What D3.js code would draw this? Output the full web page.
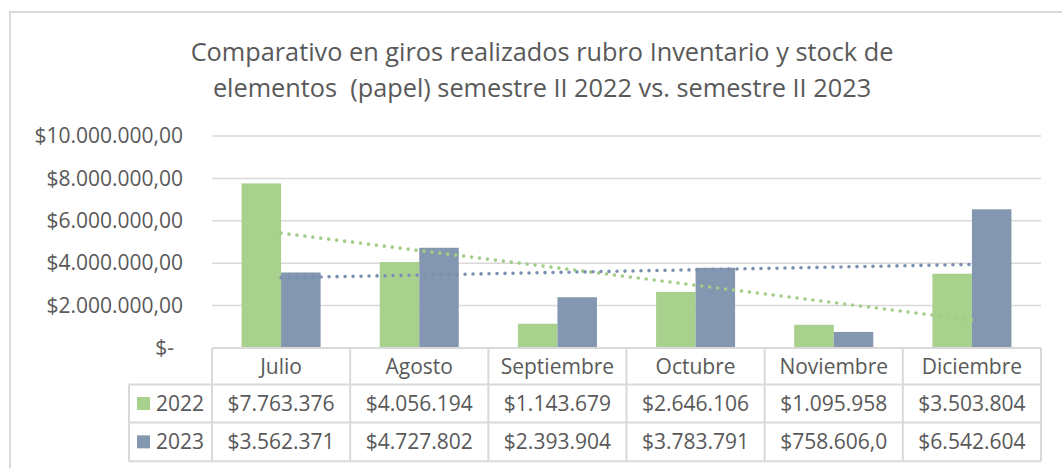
<!DOCTYPE html>
<html>
<head>
<meta charset="utf-8">
<script src="https://cdn.jsdelivr.net/npm/d3@7"></script>
<style>
  html, body { margin: 0; padding: 0; background: #fff; }
  svg { display: block; }
  text { font-family: "Open Sans", "Noto Sans", sans-serif; fill: #595959; }
</style>
</head>
<body>
<svg id="chart" width="1062" height="468"></svg>
<script>
const titleLines = [
  "Comparativo en giros realizados rubro Inventario y stock de",
  "elementos  (papel) semestre II 2022 vs. semestre II 2023"
];
const categories = ["Julio", "Agosto", "Septiembre", "Octubre", "Noviembre", "Diciembre"];
const seriesNames = ["2022", "2023"];
const values2022 = [7763376, 4056194, 1143679, 2646106, 1095958, 3503804];
const values2023 = [3562371, 4727802, 2393904, 3783791, 758606, 6542604];
const tableLabels2022 = ["$7.763.376", "$4.056.194", "$1.143.679", "$2.646.106", "$1.095.958", "$3.503.804"];
const tableLabels2023 = ["$3.562.371", "$4.727.802", "$2.393.904", "$3.783.791", "$758.606,0", "$6.542.604"];
const yTicks = [0, 2000000, 4000000, 6000000, 8000000, 10000000];
const yTickLabels = ["$-", "$2.000.000,00", "$4.000.000,00", "$6.000.000,00", "$8.000.000,00", "$10.000.000,00"];
const colors = { "2022": "#a9d18e", "2023": "#8497b0" };
const trendColors = { "2022": "#a2cd86", "2023": "#7b8fb0" };

const series = [
  { name: seriesNames[0], values: values2022, labels: tableLabels2022 },
  { name: seriesNames[1], values: values2023, labels: tableLabels2023 }
];

const svg = d3.select("#chart");
const plotLeft = 212, plotRight = 1041, plotTop = 136, plotBottom = 348;
const rowH = [36.5, 38, 38.7];
const tableLeft = 129;

// chart border
svg.append("rect").attr("x", 10).attr("y", 12).attr("width", 1070).attr("height", 480)
  .attr("fill", "none").attr("stroke", "#d9d9d9").attr("stroke-width", 2);

// title
const title = svg.append("g");
const tl = title.selectAll("text").data(titleLines).enter().append("text")
  .attr("x", 542).attr("y", (d, i) => 61 + i * 36)
  .attr("text-anchor", "middle").style("white-space", "pre").attr("xml:space", "preserve")
  .style("font-size", "24px").text(d => d);
const w0 = tl.node().getComputedTextLength();
const fs = 24 * 703 / w0;
tl.style("font-size", fs + "px");

const x = d3.scaleBand().domain(categories).range([plotLeft, plotRight]).padding(0);
const bw = x.bandwidth();
const x1 = d3.scaleBand().domain(seriesNames).range([bw * 0.214, bw * 0.786]).padding(0);
const y = d3.scaleLinear().domain([0, 10000000]).range([plotBottom, plotTop]);

// gridlines
svg.append("g").selectAll("line").data(yTicks.filter(t => t > 0)).enter().append("line")
  .attr("x1", plotLeft).attr("x2", plotRight)
  .attr("y1", d => y(d)).attr("y2", d => y(d))
  .attr("stroke", "#d9d9d9").attr("stroke-width", 1.5);

// y axis labels
const yAxis = d3.axisLeft(y).tickValues(yTicks).tickSize(0).tickPadding(0)
  .tickFormat((d, i) => yTickLabels[i]);
const yg = svg.append("g").attr("transform", `translate(183,0)`).call(yAxis);
yg.select(".domain").remove();
yg.selectAll("text").style("font-size", "21px").attr("fill", "#595959")
  .style("font-family", '"Open Sans", "Noto Sans", sans-serif')
  .attr("x", (d) => d === 0 ? -9 : 0);

// bars
const groups = svg.append("g").selectAll("g").data(series).enter().append("g")
  .attr("fill", d => colors[d.name]);
groups.selectAll("rect").data(s => s.values.map((v, i) => ({ s: s.name, c: categories[i], v })))
  .enter().append("rect")
  .attr("x", d => x(d.c) + x1(d.s))
  .attr("width", x1.bandwidth())
  .attr("y", d => y(d.v))
  .attr("height", d => y(0) - y(d.v));

// linear trendlines
series.forEach(s => {
  const n = s.values.length;
  const xs = d3.range(1, n + 1);
  const mx = d3.mean(xs), my = d3.mean(s.values);
  const slope = d3.sum(xs, (xi, i) => (xi - mx) * (s.values[i] - my)) / d3.sum(xs, xi => (xi - mx) ** 2);
  const icpt = my - slope * mx;
  const pts = [1, n].map(xi => [x(categories[xi - 1]) + bw / 2, y(icpt + slope * xi)]);
  svg.append("path").attr("d", d3.line()(pts))
    .attr("fill", "none").attr("stroke", trendColors[s.name]).attr("stroke-width", 3.6)
    .attr("stroke-linecap", "round").attr("stroke-dasharray", "0 8");
});

// data table
const tb = svg.append("g");
const tableTop = plotBottom;
const rowY = [tableTop, tableTop + rowH[0], tableTop + rowH[0] + rowH[1], tableTop + rowH[0] + rowH[1] + rowH[2]];
const bc = "#d9d9d9";
tb.append("line").attr("x1", plotLeft).attr("x2", plotRight).attr("y1", rowY[0]).attr("y2", rowY[0]).attr("stroke", bc).attr("stroke-width", 2);
[1, 2, 3].forEach(r => tb.append("line").attr("x1", tableLeft).attr("x2", plotRight)
  .attr("y1", rowY[r]).attr("y2", rowY[r]).attr("stroke", bc).attr("stroke-width", 2));
tb.append("line").attr("x1", tableLeft).attr("x2", tableLeft).attr("y1", rowY[1]).attr("y2", rowY[3]).attr("stroke", bc).attr("stroke-width", 2);
categories.concat(["_end"]).forEach((c, i) => {
  const xx = i < categories.length ? x(c) : plotRight;
  tb.append("line").attr("x1", xx).attr("x2", xx).attr("y1", rowY[0]).attr("y2", rowY[3]).attr("stroke", bc).attr("stroke-width", 2);
});
tb.selectAll("text.cat").data(categories).enter().append("text").attr("class", "cat")
  .attr("x", d => x(d) + bw / 2).attr("y", (rowY[0] + rowY[1]) / 2)
  .attr("dy", "0.35em").attr("text-anchor", "middle").style("font-size", "21px").text(d => d);
series.forEach((s, r) => {
  const cy = (rowY[r + 1] + rowY[r + 2]) / 2;
  tb.append("rect").attr("x", 137).attr("y", cy - 6.5).attr("width", 13).attr("height", 13).attr("fill", colors[s.name]);
  tb.append("text").attr("x", 156).attr("y", cy).attr("dy", "0.35em").style("font-size", "21px").text(s.name);
  tb.selectAll("text.v" + r).data(s.labels).enter().append("text").attr("class", "v" + r)
    .attr("x", (d, i) => x(categories[i]) + bw / 2).attr("y", cy).attr("dy", "0.35em")
    .attr("text-anchor", "middle").style("font-size", "21px").text(d => d);
});
</script>
</body>
</html>
